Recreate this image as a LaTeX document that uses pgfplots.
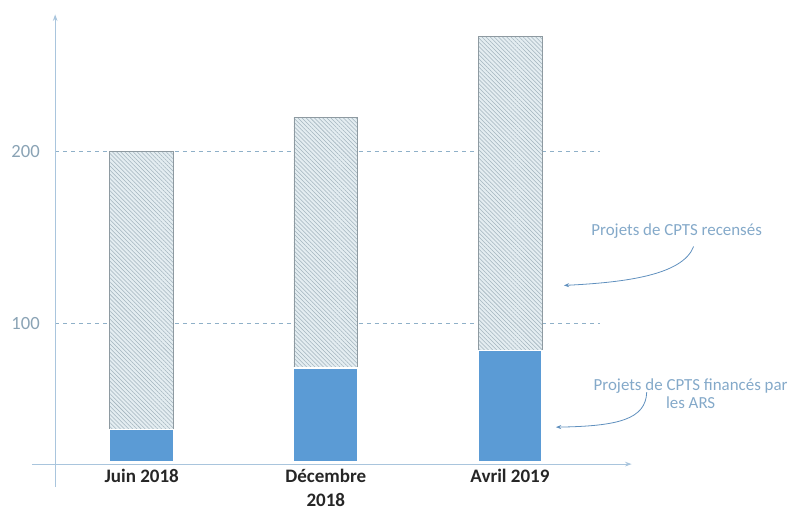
\documentclass[border=0pt]{standalone}
\usepackage{pgfplots}
\pgfplotsset{compat=1.18}
\usepackage{fontspec}
\setmainfont{Carlito}
\usetikzlibrary{patterns.meta,arrows.meta}

\definecolor{barblue}{HTML}{5B9BD5}
\definecolor{hatchbg}{HTML}{E4EDF1}
\definecolor{hatchln}{HTML}{A3B4BE}
\definecolor{hatchbd}{HTML}{8E9AA1}
\definecolor{axisc}{HTML}{A9C5DD}
\definecolor{gridc}{HTML}{8FB0C8}
\definecolor{tickc}{HTML}{8AA3B5}
\definecolor{notec}{HTML}{84A9C9}
\definecolor{arrowc}{HTML}{6090BE}

\pgfplotstableread{
x funded listed
0 38 162
1 74 146
2 84 183
}\cpts

\begin{document}
\begin{tikzpicture}
\begin{axis}[
  x=138.375pt, y=1.29pt,
  xmin=-0.47, xmax=2.49,
  ymin=19.5, ymax=280,
  clip mode=individual,
  ybar stacked,
  bar width=0.347,
  axis line style={draw=none},
  tick style={draw=none},
  xtick={0,1,2},
  xticklabels={Juin 2018, {Décembre\\2018}, Avril 2019},
  xticklabel style={font=\fontsize{14.3}{18.5}\selectfont\bfseries, text=black!85, align=center, anchor=north, yshift=-2pt},
  ytick={100,200},
  yticklabel style={font=\fontsize{14}{16}\selectfont, text=tickc, xshift=-8pt},
  /pgf/number format/assume math mode=true,
  ymajorgrids,
  major grid style={dashed, gridc, line width=0.6pt},
]
\addplot[fill=barblue, draw=white, line width=0.9pt] table[x=x, y=funded] {\cpts};
\addplot[fill=hatchbg, draw=hatchbd, line width=0.45pt,
  postaction={pattern={Lines[angle=-45, distance=2.2pt, line width=0.4pt]}, pattern color=hatchln}]
  table[x=x, y=listed] {\cpts};
% axis lines
\draw[axisc, line width=0.7pt, -{Stealth[length=5pt, width=3.5pt]}] (axis cs:-0.5962,18) -- (axis cs:2.661,18);
\draw[axisc, line width=0.7pt, -{Stealth[length=5pt, width=3.5pt]}] (axis cs:-0.47,4.65) -- (axis cs:-0.47,280);
\coordinate (TL) at (axis cs:-0.7696,288.37);
\coordinate (BR) at (axis cs:3.5230,-8.72);
\end{axis}
\path (TL) rectangle (BR);
\begin{scope}[shift={(TL)}, x=0.75pt, y=-0.75pt]
  \node[text=notec, font=\fontsize{12.7}{13.5}\selectfont] at (678,232) {Projets de CPTS recensés};
  \draw[arrowc, line width=0.6pt, -{Stealth[length=4pt, width=3pt]}] (695,247) .. controls (684,276) and (625,283) .. (565,286);
  \node[text=notec, font=\fontsize{12.7}{13.5}\selectfont, align=center] at (692,394) {Projets de CPTS financés par\\les ARS};
  \draw[arrowc, line width=0.6pt, -{Stealth[length=4pt, width=3pt]}] (648,393) .. controls (647,420) and (620,427) .. (557,428);
\end{scope}
\end{tikzpicture}
\end{document}
